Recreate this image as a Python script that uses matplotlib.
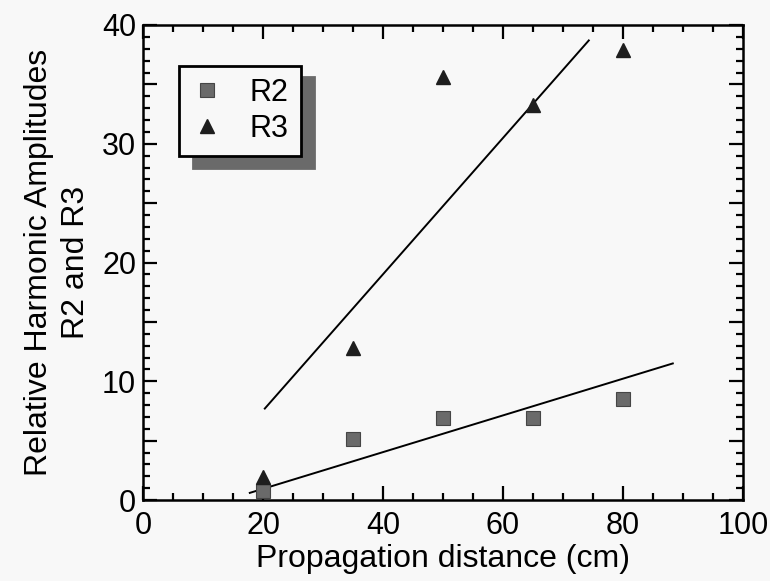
import matplotlib.pyplot as plt
from matplotlib.ticker import MultipleLocator, FuncFormatter

# values
distance = [20, 35, 50, 65, 80]
r2 = [0.8, 5.1, 6.9, 6.9, 8.5]
r3 = [1.9, 12.8, 35.6, 33.3, 37.9]

# fitted lines as drawn (end points)
fit_r2_x = [17.8, 88.3]
fit_r2_y = [0.6, 11.5]
fit_r3_x = [20.3, 74.3]
fit_r3_y = [7.7, 38.7]

bg = "#f8f8f8"
plt.rcParams["font.family"] = ["Liberation Sans", "DejaVu Sans"]

fig = plt.figure(figsize=(7.7, 5.81), dpi=100, facecolor=bg)
ax = fig.add_axes([143 / 770, 81 / 581, 600 / 770, 475 / 581], facecolor=bg)

ax.plot(fit_r3_x, fit_r3_y, color="black", lw=1.4)
ax.plot(fit_r2_x, fit_r2_y, color="black", lw=1.4)
ax.plot(distance, r2, ls="none", marker="s", ms=10, mfc="#6a6a6a", mec="#454545",
        mew=0.8, label="R2")
ax.plot(distance, r3, ls="none", marker="^", ms=10, mfc="#1e1e1e", mec="#1e1e1e",
        label="R3")

ax.set_xlim(0, 100)
ax.set_ylim(0, 40)
ax.xaxis.set_major_locator(MultipleLocator(20))
ax.xaxis.set_minor_locator(MultipleLocator(5))
ax.yaxis.set_major_locator(MultipleLocator(5))
ax.yaxis.set_minor_locator(MultipleLocator(1))
ax.yaxis.set_major_formatter(FuncFormatter(lambda v, p: f"{v:.0f}" if v % 10 == 0 else ""))

ax.tick_params(which="both", direction="in", top=True, right=True, width=1.6,
               labelsize=22, pad=5)
ax.tick_params(axis="x", pad=8)
ax.tick_params(which="major", length=10)
ax.tick_params(which="minor", length=5)
for s in ax.spines.values():
    s.set_linewidth(1.8)

ax.set_xlabel("Propagation distance (cm)", fontsize=23, labelpad=2)
ax.set_ylabel("Relative Harmonic Amplitudes\nR2 and R3", fontsize=23, labelpad=8,
              linespacing=1.3)

leg = ax.legend(loc="upper left", bbox_to_anchor=(0.06, 0.914), borderaxespad=0,
                fancybox=False, fontsize=22, handlelength=1.0, handletextpad=0.9,
                borderpad=0.4, labelspacing=0.2, framealpha=1,
                shadow={"ox": 10, "oy": -8, "color": "#6a6a6a", "alpha": 1})
leg.get_frame().set_edgecolor("black")
leg.get_frame().set_linewidth(2.0)
leg.get_frame().set_facecolor(bg)

fig.savefig("out.png", dpi=100, facecolor=bg)
